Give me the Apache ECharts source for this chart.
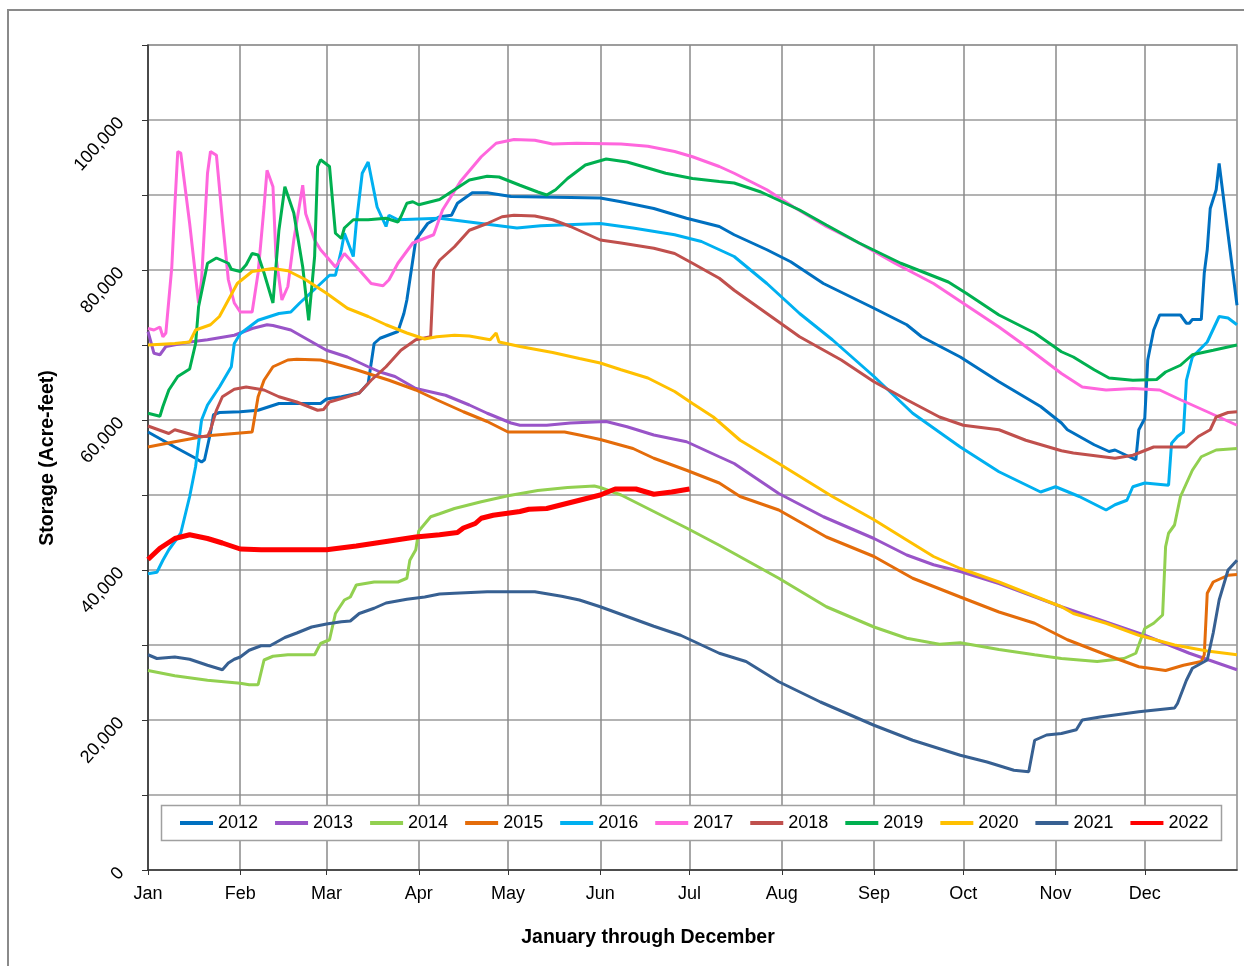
<!DOCTYPE html>
<html>
<head>
<meta charset="utf-8">
<script src="https://cdn.jsdelivr.net/npm/echarts@6/dist/echarts.min.js"></script>
<style>
html,body{margin:0;padding:0;background:#fff;}
#chart{width:1244px;height:966px;}
</style>
</head>
<body>
<div id="chart"></div>
<script>
// Month labels and their starting day index (366-day calendar year)
const months = ['Jan','Feb','Mar','Apr','May','Jun','Jul','Aug','Sep','Oct','Nov','Dec'];
const monthStarts = [0,31,60,91,121,152,182,213,244,274,305,335];
const yearNames = ['2012','2013','2014','2015','2016','2017','2018','2019','2020','2021','2022'];
const yearColors = ['#0070C0','#9954C8','#92D050','#E46C0A','#00B0F0','#FF66DD','#C0504D','#00B050','#FFC000','#376092','#FF0000'];

// Storage (acre-feet) as [day of year, value]
const s2012 = [[0,58400],[9,56400],[16,54900],[18,54400],[19,54700],[21,58300],[22,60700],[24,61000],[31,61100],[37,61300],[44,62200],[58,62200],[60,62800],[65,63100],[71,63600],[74,64900],[76,70200],[78,70900],[84,71800],[86,74200],[87,76000],[90,84000],[94,86200],[98,87100],[102,87300],[104,88900],[109,90300],[114,90300],[122,89800],[152,89600],[159,89100],[170,88200],[181,86900],[192,85800],[197,84700],[208,82700],[216,81100],[227,78200],[244,74900],[255,72700],[260,71100],[273,68400],[286,65100],[300,61800],[307,59600],[309,58700],[318,56700],[323,55800],[325,56000],[332,54700],[333,58700],[335,60200],[336,68000],[338,72000],[340,74000],[347,74000],[349,72900],[350,72900],[351,73400],[354,73400],[355,79600],[356,82700],[357,88200],[359,90700],[360,94200],[366,75300]];
const s2013 = [[0,71800],[2,68900],[4,68700],[6,69800],[14,70400],[20,70700],[29,71300],[35,72200],[40,72700],[42,72600],[48,72000],[52,71100],[60,69300],[67,68400],[74,67100],[78,66400],[83,65800],[90,64200],[100,63300],[108,62000],[114,60900],[122,59600],[125,59300],[134,59300],[142,59600],[154,59800],[161,59100],[170,58000],[181,57100],[192,55100],[197,54200],[212,50200],[227,47100],[244,44200],[255,42000],[264,40700],[273,39800],[286,38200],[307,35100],[335,31300],[350,28900],[366,26700]];
const s2014 = [[0,26600],[9,25900],[20,25300],[31,24900],[34,24700],[37,24700],[39,28000],[42,28500],[47,28700],[56,28700],[58,30200],[61,30700],[63,34200],[66,36000],[68,36400],[70,38000],[76,38400],[84,38400],[87,38900],[88,41300],[90,42700],[91,45200],[95,47100],[98,47500],[103,48200],[112,49100],[121,49900],[131,50600],[141,51000],[150,51200],[152,51000],[159,50000],[170,47800],[181,45600],[192,43300],[197,42200],[212,38900],[228,35100],[244,32400],[255,30900],[266,30100],[273,30300],[286,29400],[298,28700],[307,28200],[319,27800],[328,28200],[332,28900],[335,32200],[338,32900],[341,34000],[342,43100],[343,44900],[345,46000],[347,49800],[351,53300],[354,55100],[359,56000],[366,56200]];
const s2015 = [[0,56400],[9,57100],[20,57900],[35,58400],[37,63100],[39,65300],[42,67100],[47,68000],[50,68100],[58,68000],[62,67600],[70,66700],[81,65300],[90,64000],[97,62700],[106,61100],[114,59800],[121,58400],[140,58400],[145,58000],[152,57400],[163,56200],[170,54900],[181,53300],[192,51600],[199,49800],[212,48000],[228,44400],[244,41800],[257,38900],[273,36400],[286,34400],[298,32900],[307,31100],[309,30700],[322,28700],[333,27100],[342,26600],[348,27300],[354,27800],[355,28700],[356,36900],[358,38400],[363,39300],[366,39400]];
const s2016 = [[0,39500],[3,39700],[5,41300],[7,42700],[11,44900],[14,49800],[16,53800],[18,60000],[20,62000],[24,64400],[28,67100],[29,70200],[31,71500],[37,73300],[44,74200],[48,74400],[51,75600],[57,77800],[61,79300],[63,79300],[65,82700],[66,84900],[69,81800],[70,86200],[72,92900],[74,94400],[77,88400],[80,85800],[81,87300],[84,86700],[98,86900],[114,86100],[124,85600],[132,85900],[152,86200],[163,85600],[177,84700],[186,83800],[197,81800],[208,78200],[219,74200],[230,70700],[244,65800],[257,60900],[273,56400],[286,53100],[300,50400],[305,51100],[313,49800],[322,48000],[325,48700],[329,49300],[331,51100],[335,51600],[343,51300],[344,56900],[346,57800],[348,58400],[349,65300],[351,68400],[356,70400],[360,73800],[363,73600],[366,72700]];
const s2017 = [[0,72200],[2,72000],[4,72400],[5,71100],[6,71600],[8,80400],[9,88400],[10,95800],[11,95600],[14,86200],[17,75600],[18,78700],[20,92900],[21,95800],[23,95300],[25,86700],[27,78700],[29,75600],[31,74400],[35,74400],[37,79600],[39,88400],[40,93300],[42,91100],[43,81800],[45,76000],[47,77800],[49,84000],[52,91300],[53,87500],[56,84000],[58,82700],[60,81800],[63,80400],[66,82200],[69,80900],[75,78200],[79,77900],[81,78700],[84,80900],[89,83600],[96,84700],[99,88000],[105,91800],[112,95100],[117,96900],[123,97400],[130,97300],[136,96800],[144,96900],[159,96800],[168,96500],[177,95800],[183,95100],[192,93800],[197,92900],[208,90700],[217,88400],[228,85800],[239,83600],[251,80900],[264,78200],[275,75300],[286,72400],[293,70400],[307,66200],[314,64400],[322,64000],[331,64200],[340,64000],[347,62700],[356,61100],[366,59300]];
const s2018 = [[0,59200],[7,58200],[9,58700],[17,57800],[20,57800],[21,58700],[23,61300],[25,63100],[29,64100],[33,64400],[39,64000],[44,63100],[50,62400],[57,61300],[59,61400],[61,62400],[67,63100],[71,63600],[75,65300],[80,67100],[85,69300],[90,70700],[95,71100],[96,80000],[98,81300],[103,83100],[108,85300],[114,86200],[119,87100],[123,87300],[130,87200],[136,86700],[142,85800],[147,84900],[152,84000],[159,83600],[170,82900],[177,82200],[183,80900],[192,78900],[197,77300],[208,74200],[219,71100],[233,68000],[244,65100],[255,62700],[266,60400],[274,59300],[286,58700],[295,57300],[307,55900],[311,55600],[325,54900],[331,55300],[338,56400],[349,56400],[353,57800],[357,58700],[359,60400],[363,61000],[366,61100]];
const s2019 = [[0,60900],[4,60500],[5,61800],[7,64000],[10,65800],[14,66800],[16,70200],[17,75100],[20,80900],[23,81600],[27,80900],[28,80100],[31,79800],[33,80700],[35,82200],[37,82000],[39,79600],[42,75600],[44,85300],[46,91100],[49,87600],[52,80400],[54,73300],[56,81800],[57,93800],[58,94700],[61,93800],[63,84900],[65,84200],[66,85600],[69,86700],[74,86700],[80,86900],[84,86400],[85,87100],[87,88900],[89,89100],[91,88700],[98,89400],[103,90700],[108,92000],[114,92500],[118,92400],[125,91300],[131,90400],[134,90000],[137,90700],[141,92200],[147,94000],[154,94800],[161,94400],[168,93600],[174,92900],[183,92200],[192,91800],[197,91600],[206,90400],[212,89300],[219,88000],[228,86000],[239,83600],[253,80900],[269,78400],[275,76900],[286,74000],[298,71600],[307,69100],[311,68400],[318,66700],[323,65600],[331,65300],[339,65400],[342,66400],[347,67300],[351,68700],[358,69300],[366,70000]];
const s2020 = [[0,70000],[9,70200],[14,70400],[16,72000],[21,72700],[24,73800],[27,76000],[30,78200],[35,79800],[42,80200],[47,79900],[53,78700],[60,76900],[67,74900],[74,73800],[80,72700],[87,71600],[93,70800],[97,71100],[103,71300],[108,71200],[115,70700],[117,71600],[118,70400],[125,69800],[136,69000],[145,68200],[152,67600],[159,66700],[168,65600],[177,63800],[183,62200],[190,60400],[199,57300],[212,54200],[230,49800],[244,46700],[255,44000],[264,41800],[273,40200],[286,38400],[300,36200],[307,35100],[311,34200],[322,32900],[333,31300],[345,30000],[356,29200],[366,28700]];
const s2021 = [[0,28700],[3,28200],[9,28400],[14,28100],[20,27300],[25,26700],[27,27600],[29,28100],[31,28400],[34,29300],[38,29900],[41,29900],[46,31000],[50,31600],[55,32400],[60,32800],[65,33100],[68,33200],[71,34200],[76,34900],[80,35600],[87,36100],[93,36400],[98,36800],[103,36900],[114,37100],[130,37100],[139,36500],[145,36000],[152,35100],[161,33800],[170,32500],[179,31300],[192,28900],[201,27800],[212,25100],[226,22400],[244,19300],[257,17300],[273,15300],[282,14400],[291,13300],[296,13100],[298,17300],[302,18000],[307,18200],[312,18700],[314,20000],[320,20400],[333,21100],[345,21600],[346,22200],[349,25300],[351,26900],[356,28000],[358,31600],[360,36000],[363,40000],[366,41300]];
const s2022 = [[0,41400],[4,42900],[9,44200],[14,44700],[20,44200],[25,43600],[31,42800],[38,42700],[60,42700],[70,43200],[80,43800],[90,44400],[98,44700],[104,45000],[106,45600],[110,46200],[112,46900],[116,47300],[125,47800],[128,48100],[134,48200],[139,48700],[145,49300],[152,50000],[157,50800],[164,50800],[170,50100],[176,50400],[182,50800]];

const seriesData = [s2012,s2013,s2014,s2015,s2016,s2017,s2018,s2019,s2020,s2021,s2022];
const FONT = "'Liberation Sans', Arial, sans-serif";

const dayCats = [];
for (let i = 0; i <= 366; i++) dayCats.push(String(i));
const isMonthStart = (idx) => monthStarts.indexOf(idx) >= 0;

const chart = echarts.init(document.getElementById('chart'), null, {renderer: 'canvas'});
chart.setOption({
  animation: false,
  backgroundColor: '#ffffff',
  grid: {left: 148, top: 45, right: 7, bottom: 96, containLabel: false,
         show: true, borderColor: '#8a8a8a', borderWidth: 1.5, backgroundColor: 'transparent'},
  xAxis: {
    type: 'category',
    data: dayCats,
    boundaryGap: false,
    axisLine: {lineStyle: {color: '#333', width: 1.5}},
    axisTick: {show: true, interval: (i) => isMonthStart(i), length: 5, lineStyle: {color: '#333'}},
    axisLabel: {interval: (i) => isMonthStart(i), margin: 15, color: '#000', fontSize: 18, fontFamily: FONT,
      formatter: (v, i) => { const k = monthStarts.indexOf(Number(v)); return k >= 0 ? months[k] : ''; }},
    splitLine: {show: true, interval: (i) => isMonthStart(i), lineStyle: {color: '#8a8a8a', width: 1.5}}
  },
  yAxis: {
    type: 'value', min: 0, max: 110000, interval: 10000,
    axisLine: {show: true, lineStyle: {color: '#333', width: 1.5}},
    axisTick: {show: true, length: 6, lineStyle: {color: '#333'}},
    axisLabel: {rotate: 48, margin: 27, color: '#000', fontSize: 18, fontFamily: FONT,
      formatter: (v) => (v % 20000 === 0 ? v.toLocaleString('en-US') : '')},
    splitLine: {show: true, lineStyle: {color: '#9a9a9a', width: 1.5}}
  },
  legend: {
    data: yearNames.map((n) => ({name: n, icon: 'rect'})),
    left: 180, top: 814, padding: 0, itemGap: 17, itemWidth: 33, itemHeight: 4,
    textStyle: {color: '#000', fontSize: 18, fontFamily: FONT},
    z: 20
  },
  graphic: [
    {type: 'rect', z: 1, silent: true, shape: {x: 8, y: 10, width: 1300, height: 1000},
     style: {fill: 'none', stroke: '#8a8a8a', lineWidth: 2}},
    {type: 'rect', z: 10, silent: true, shape: {x: 161.5, y: 805.5, width: 1060, height: 35},
     style: {fill: '#ffffff', stroke: '#a0a0a0', lineWidth: 1.5}},
    {type: 'text', z: 10, x: 648, y: 938,
     style: {text: 'January through December', font: "bold 19.5px " + FONT, fill: '#000',
             align: 'center', verticalAlign: 'middle', textAlign: 'center', textVerticalAlign: 'middle'}},
    {type: 'text', z: 10, x: 48, y: 458, rotation: Math.PI / 2,
     style: {text: 'Storage (Acre-feet)', font: "bold 19.5px " + FONT, fill: '#000',
             align: 'center', verticalAlign: 'middle', textAlign: 'center', textVerticalAlign: 'middle'}}
  ],
  series: seriesData.map((d, i) => ({
    name: yearNames[i],
    type: 'line',
    data: d,
    symbol: 'none',
    showSymbol: false,
    smooth: false,
    color: yearColors[i],
    lineStyle: {color: yearColors[i], width: i === 10 ? 5 : 3},
    z: 2 + i
  }))
});
</script>
</body>
</html>
